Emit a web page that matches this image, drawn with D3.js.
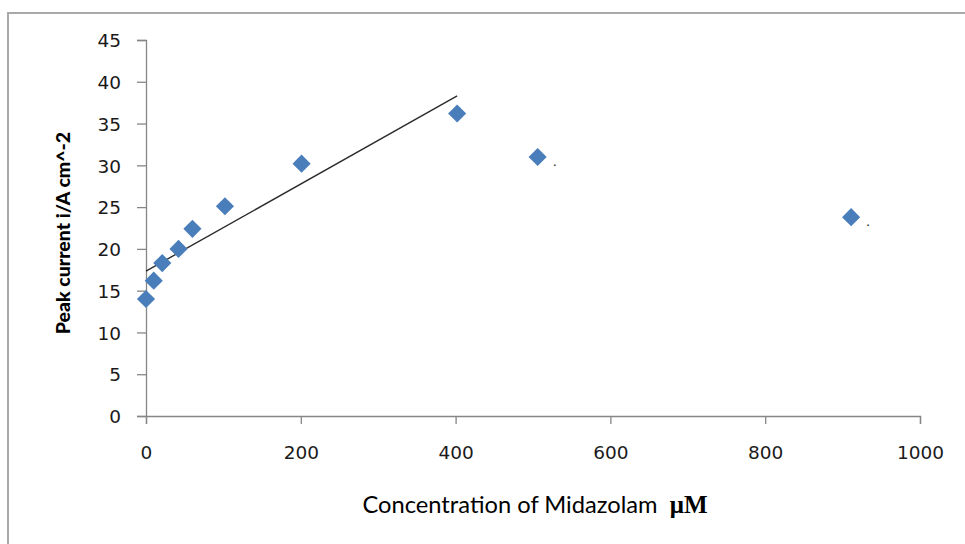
<!DOCTYPE html>
<html>
<head>
<meta charset="utf-8">
<script src="https://cdn.jsdelivr.net/npm/d3@7"></script>
<style>
  html, body { margin: 0; padding: 0; background: #fff; }
  svg { display: block; }
</style>
</head>
<body>
<svg id="chart" width="965" height="544"></svg>
<script>
// Peak current vs. Midazolam concentration
const concentration = [0, 10, 21, 42, 60, 102, 201, 402, 506, 911];
const peakCurrent   = [14.0, 16.2, 18.3, 20.0, 22.4, 25.1, 30.2, 36.2, 31.0, 23.8];
// points used for the linear fit (the rising part of the curve)
const fitCount = 8;
// points carrying a "." data label
const dottedLabels = [8, 9];
const xTicks = [0, 200, 400, 600, 800, 1000];
const yTicks = [0, 5, 10, 15, 20, 25, 30, 35, 40, 45];

const svg = d3.select("#chart");

// outer chart-area frame
svg.append("rect")
  .attr("x", 8).attr("y", 13)
  .attr("width", 1000).attr("height", 600)
  .attr("fill", "none")
  .attr("stroke", "#a9a9a9")
  .attr("stroke-width", 2);

const x = d3.scaleLinear().domain([0, 1000]).range([146, 920]);
const y = d3.scaleLinear().domain([0, 45]).range([416, 40]);

const tickFont = "'DejaVu Sans', Verdana, sans-serif";

// y axis
const yAxis = svg.append("g")
  .attr("transform", `translate(${x(0)},0)`)
  .call(d3.axisLeft(y).tickValues(yTicks).tickSize(9).tickPadding(16).tickFormat(d3.format("d")));
// x axis
const xAxis = svg.append("g")
  .attr("transform", `translate(0,${y(0)})`)
  .call(d3.axisBottom(x).tickValues(xTicks).tickSize(8).tickPadding(22).tickFormat(d3.format("d")));

[yAxis, xAxis].forEach(g => {
  g.select(".domain").attr("stroke", "#868686").attr("stroke-width", 1.3);
  g.selectAll(".tick line").attr("stroke", "#868686").attr("stroke-width", 1.3);
  g.selectAll(".tick text")
    .attr("fill", "#1a1a1a")
    .style("font-family", tickFont)
    .style("font-size", "18.5px");
});
yAxis.selectAll(".tick text").attr("dy", "0.36em");

// least-squares trendline over the rising section
const fx = concentration.slice(0, fitCount);
const fy = peakCurrent.slice(0, fitCount);
const mx = d3.mean(fx), my = d3.mean(fy);
const slope = d3.sum(fx, (v, i) => (v - mx) * (fy[i] - my)) / d3.sum(fx, v => (v - mx) ** 2);
const intercept = my - slope * mx;
const fitRange = d3.extent(fx);

svg.append("line")
  .attr("x1", x(fitRange[0])).attr("y1", y(intercept + slope * fitRange[0]))
  .attr("x2", x(fitRange[1])).attr("y2", y(intercept + slope * fitRange[1]))
  .attr("stroke", "#2b2b2b")
  .attr("stroke-width", 1.4);

// diamond markers
const diamond = d3.symbol().type(d3.symbolDiamond2).size(210);
svg.append("g").selectAll("path")
  .data(concentration.map((c, i) => [c, peakCurrent[i]]))
  .join("path")
  .attr("d", diamond)
  .attr("transform", d => `translate(${x(d[0])},${y(d[1])})`)
  .attr("fill", "#4a7ebb");

// "." data labels beside the last points
svg.append("g").selectAll("text")
  .data(dottedLabels)
  .join("text")
  .attr("x", i => x(concentration[i]) + 15)
  .attr("y", i => y(peakCurrent[i]) + 9)
  .style("font-family", "'DejaVu Sans', sans-serif")
  .style("font-size", "13px")
  .attr("fill", "#222")
  .text(".");

// axis titles
svg.append("text")
  .attr("transform", "translate(70,233) rotate(-90)")
  .attr("text-anchor", "middle")
  .style("font-family", "Lato, 'Open Sans', sans-serif")
  .style("font-weight", "900")
  .style("font-size", "19.5px")
  .attr("fill", "#000")
  .text("Peak current i/A cm^-2");

const xTitle = svg.append("text")
  .attr("x", 535).attr("y", 513)
  .attr("text-anchor", "middle")
  .style("font-family", "Lato, 'Open Sans', sans-serif")
  .style("font-size", "23.7px")
  .attr("fill", "#000");
xTitle.append("tspan").text("Concentration of Midazolam\u00a0\u00a0");
xTitle.append("tspan")
  .style("font-family", "'Liberation Serif', 'DejaVu Serif', serif")
  .style("font-weight", "bold")
  .style("font-size", "25px")
  .text("\u03bcM");
</script>
</body>
</html>
